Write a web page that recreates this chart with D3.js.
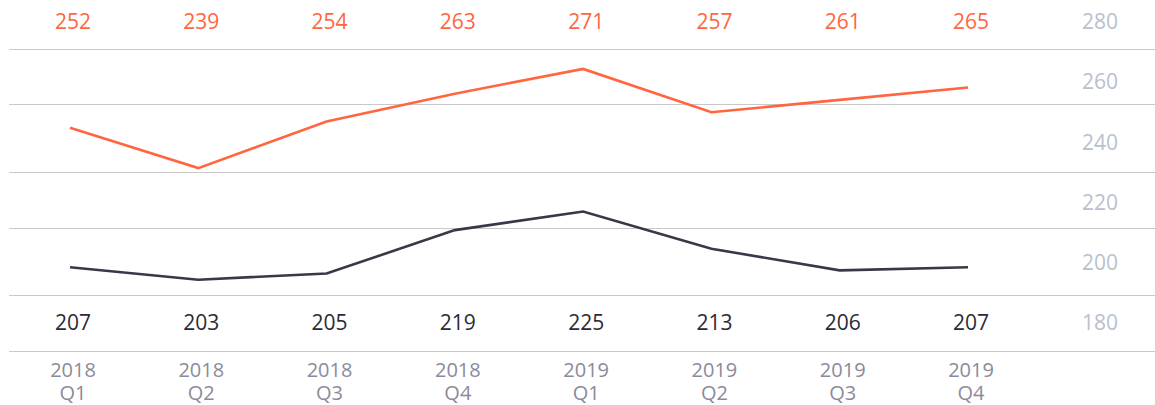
<!DOCTYPE html>
<html>
<head>
<meta charset="utf-8">
<script src="https://cdn.jsdelivr.net/npm/d3@7"></script>
<style>
  body { margin: 0; background: #fff; }
  svg { display: block; font-family: "Open Sans", Roboto, sans-serif; }
</style>
</head>
<body>
<div id="chart"></div>
<script>
// frame
const FRAME_WIDTH = 1155;
const FRAME_HEIGHT = 405;

// data
const years = ["2018", "2018", "2018", "2018", "2019", "2019", "2019", "2019"];
const quarters = ["Q1", "Q2", "Q3", "Q4", "Q1", "Q2", "Q3", "Q4"];
const orangeValues = [252, 239, 254, 263, 271, 257, 261, 265];
const darkValues = [207, 203, 205, 219, 225, 213, 206, 207];
const axisTicks = [180, 200, 220, 240, 260, 280];
// row separators, in right-axis units
const gridValues = [271, 252.6, 230.2, 211.6, 189.3, 170.7];

const ORANGE = "#ff6640";
const DARK = "#383846";

const svg = d3.select("#chart")
  .append("svg")
  .attr("width", FRAME_WIDTH)
  .attr("height", FRAME_HEIGHT);

const periods = d3.range(years.length);

// x position of each quarter
const xScale = d3.scalePoint()
  .domain(periods)
  .range([70, 968]);

// scale used for the lines
const yScale = d3.scaleLinear()
  .domain([180, 280])
  .range([351, 41]);

// scale used for the right labels and the row lines
const labelScale = d3.scaleLinear()
  .domain([180, 280])
  .range([323, 22]);

// row lines
svg.append("g")
  .selectAll("line")
  .data(gridValues)
  .enter()
  .append("line")
    .attr("x1", 9)
    .attr("x2", FRAME_WIDTH)
    .attr("y1", (d) => Math.round(labelScale(d)) + 0.5)
    .attr("y2", (d) => Math.round(labelScale(d)) + 0.5)
    .attr("stroke", "#c9c9cc")
    .attr("stroke-width", 1.2);

// right axis labels
const yAxis = svg.append("g")
  .attr("transform", "translate(1100,0)")
  .call(d3.axisRight(labelScale).tickValues(axisTicks).tickSize(0).tickPadding(0));
yAxis.select(".domain").remove();
yAxis.selectAll("text")
  .attr("text-anchor", "middle")
  .attr("fill", "#b9c0ce")
  .style("font-family", "\"Open Sans\", Roboto, sans-serif")
  .style("font-size", "21px");

// lines
const line = (vals) => d3.line()
  .x((d, i) => xScale(i))
  .y((d) => yScale(d))(vals);

svg.append("path")
  .attr("d", line(orangeValues))
  .attr("fill", "none")
  .attr("stroke", ORANGE)
  .attr("stroke-width", 2.6);

svg.append("path")
  .attr("d", line(darkValues))
  .attr("fill", "none")
  .attr("stroke", DARK)
  .attr("stroke-width", 2.6);

// value labels: orange on top, dark at the bottom
svg.append("g")
  .selectAll("text")
  .data(orangeValues)
  .enter()
  .append("text")
    .attr("x", (d, i) => xScale(i) + 3)
    .attr("y", labelScale(280))
    .attr("dy", "0.35em")
    .attr("text-anchor", "middle")
    .attr("fill", ORANGE)
    .style("font-size", "21px")
    .text((d) => d);

svg.append("g")
  .selectAll("text")
  .data(darkValues)
  .enter()
  .append("text")
    .attr("x", (d, i) => xScale(i) + 3)
    .attr("y", labelScale(180))
    .attr("dy", "0.35em")
    .attr("text-anchor", "middle")
    .attr("fill", "#2b2b33")
    .style("font-size", "21px")
    .text((d) => d);

// quarter labels
const xLabels = svg.append("g")
  .selectAll("text")
  .data(periods)
  .enter()
  .append("text")
    .attr("text-anchor", "middle")
    .attr("fill", "#8b8a9b")
    .style("font-size", "20px");

xLabels.append("tspan")
  .attr("x", (d) => xScale(d) + 3)
  .attr("y", 370)
  .attr("dy", "0.35em")
  .text((d) => years[d]);

xLabels.append("tspan")
  .attr("x", (d) => xScale(d) + 3)
  .attr("y", 393)
  .attr("dy", "0.35em")
  .text((d) => quarters[d]);
</script>
</body>
</html>
